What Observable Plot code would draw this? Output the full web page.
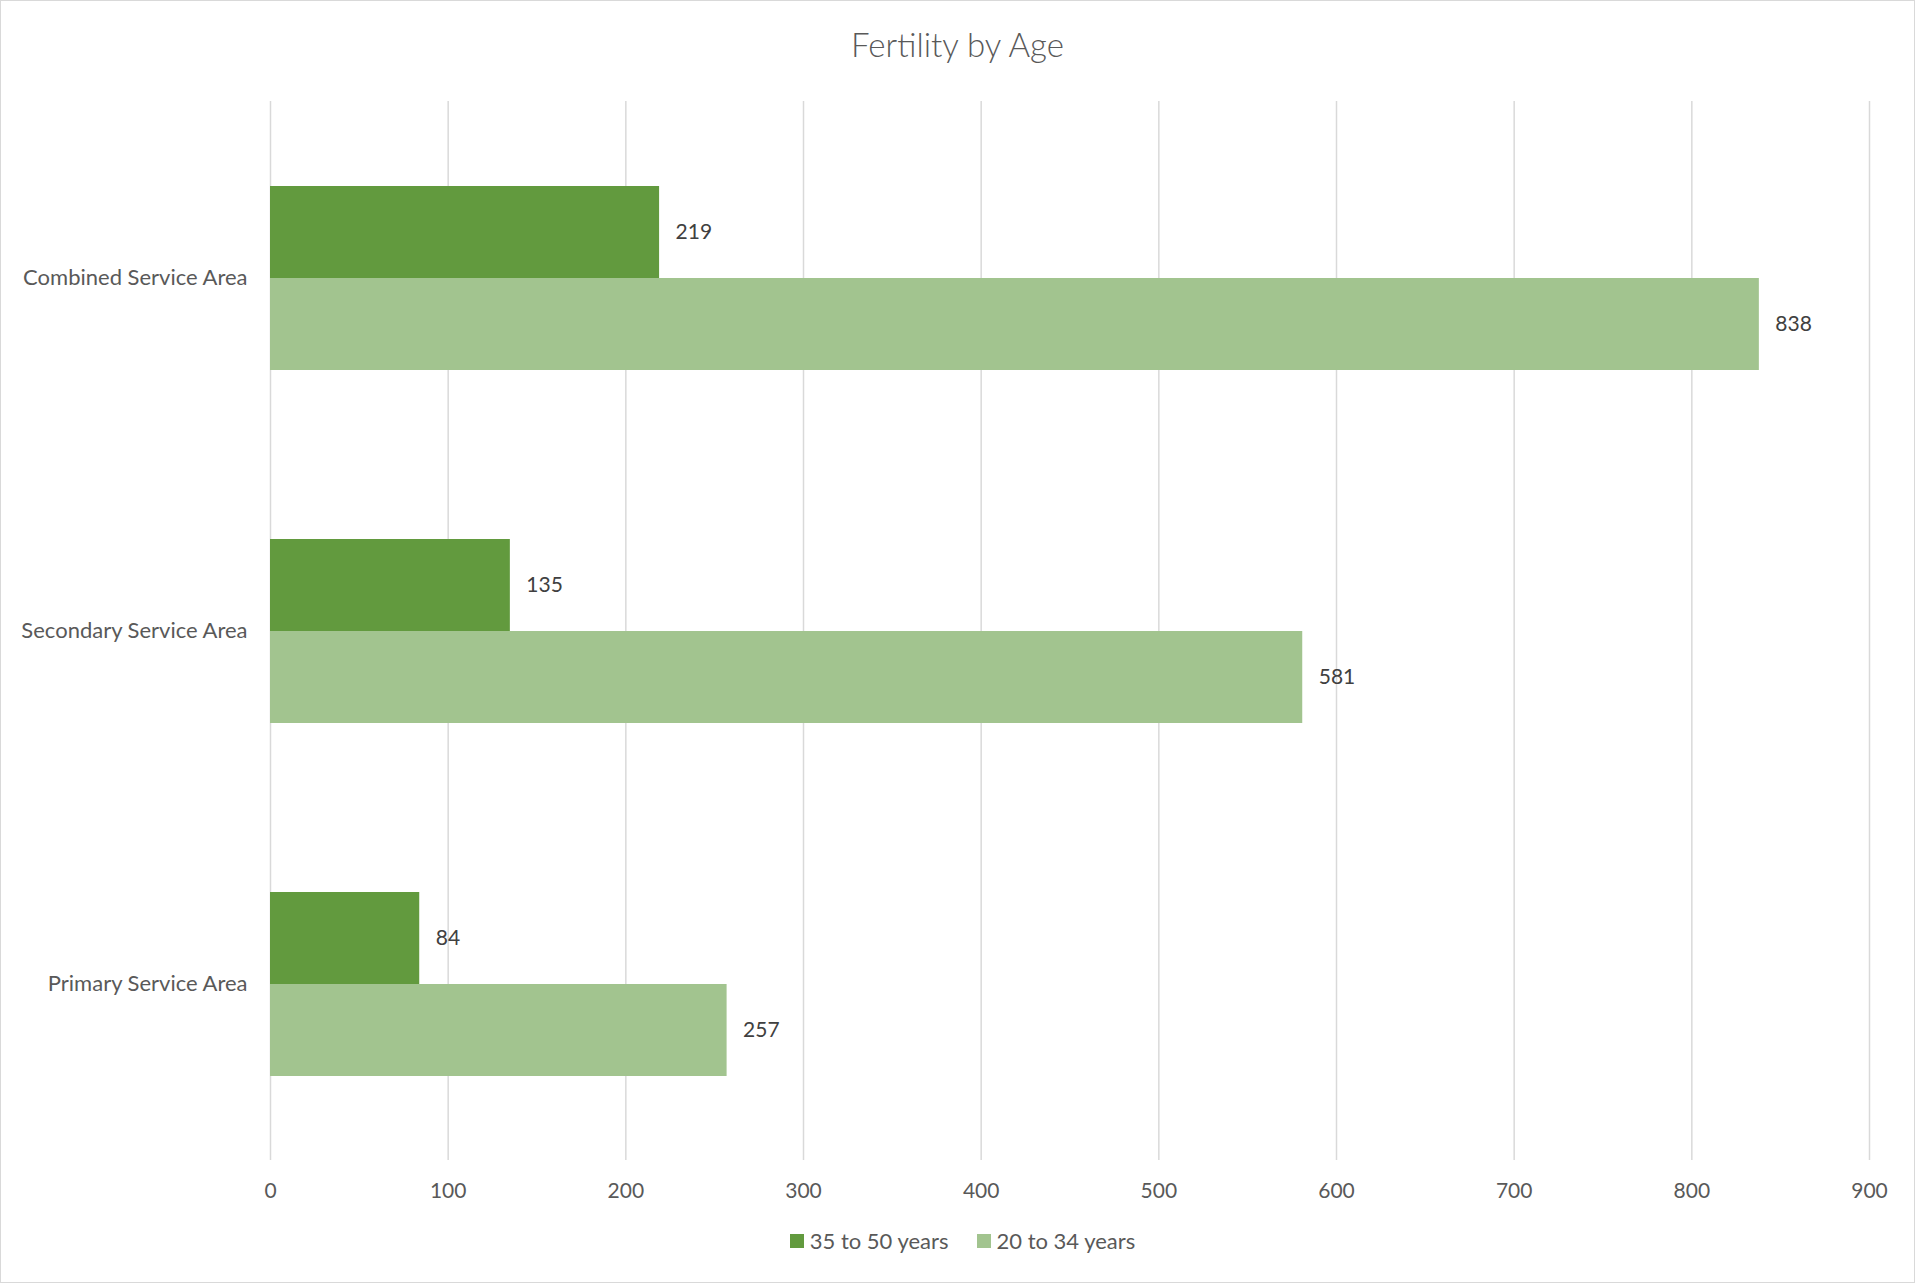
<!DOCTYPE html>
<html>
<head>
<meta charset="utf-8">
<script src="https://cdn.jsdelivr.net/npm/d3@7"></script>
<script src="https://cdn.jsdelivr.net/npm/@observablehq/plot@0.6"></script>
<style>
  html, body { margin: 0; padding: 0; background: #fff; }
  #wrap { position: relative; width: 1915px; height: 1283px; overflow: hidden; font-family: Lato, "Open Sans", sans-serif; }
  #frame { position: absolute; left: 0; top: 0; width: 1915px; height: 1283px; box-sizing: border-box; border: 1px solid #d9d9d9; pointer-events: none; }
  #title { position: absolute; left: 0; width: 1915px; top: 22px; text-align: center; font-size: 33px; font-weight: 300; color: #595959; line-height: 44px; }
  #chart { position: absolute; left: 0; top: 0; }
  #legend { position: absolute; left: 0; width: 1925px; top: 1227px; display: flex; justify-content: center; gap: 28px; font-size: 22px; color: #595959; line-height: 28px; }
  .item { display: flex; align-items: center; gap: 6px; }
  .sw { width: 14px; height: 14px; display: inline-block; }
</style>
</head>
<body>
<div id="wrap">
  <div id="chart"></div>
  <div id="title"></div>
  <div id="legend"></div>
  <div id="frame"></div>
</div>
<script>
const chartTitle = "Fertility by Age";
const categories = ["Combined Service Area", "Secondary Service Area", "Primary Service Area"];
const series = ["35 to 50 years", "20 to 34 years"];
const values35to50 = [219, 135, 84];
const values20to34 = [838, 581, 257];
const xTicks = [0, 100, 200, 300, 400, 500, 600, 700, 800, 900];
const colors = ["#629A3E", "#A2C48F"];

const data = categories.flatMap((c, i) => [
  {category: c, series: series[0], value: values35to50[i]},
  {category: c, series: series[1], value: values20to34[i]}
]);

document.getElementById("title").textContent = chartTitle;

const legend = document.getElementById("legend");
series.forEach((s, i) => {
  const item = document.createElement("div");
  item.className = "item";
  const sw = document.createElement("span");
  sw.className = "sw";
  sw.style.background = colors[i];
  const t = document.createElement("span");
  t.textContent = s;
  item.appendChild(sw);
  item.appendChild(t);
  legend.appendChild(item);
});

const chart = Plot.plot({
  width: 1915,
  height: 1283,
  marginTop: 100,
  marginBottom: 123,
  marginLeft: 270,
  marginRight: 46,
  style: {fontFamily: "Lato, 'Open Sans', sans-serif", fontSize: "21px", background: "transparent"},
  x: {domain: [0, 900]},
  y: {domain: series, axis: null, paddingInner: 0, paddingOuter: 0.91},
  fy: {domain: categories, padding: 0},
  color: {domain: series, range: colors},
  marks: [
    Plot.gridX(xTicks, {stroke: "#d9d9d9", strokeOpacity: 1, strokeWidth: 1.5}),
    Plot.barX(data, {x: "value", y: "series", fy: "category", fill: "series"}),
    Plot.text(data, {x: "value", y: "series", fy: "category", text: d => String(d.value), dx: 16, textAnchor: "start", fill: "#404040", fontSize: 21}),
    Plot.axisX({ticks: xTicks, tickSize: 0, tickPadding: 23, fontSize: 21, color: "#595959", label: null}),
    Plot.axisFy({anchor: "left", tickSize: 0, tickPadding: 23, fontSize: 22, color: "#595959", label: null})
  ]
});
document.getElementById("chart").appendChild(chart);
</script>
</body>
</html>
